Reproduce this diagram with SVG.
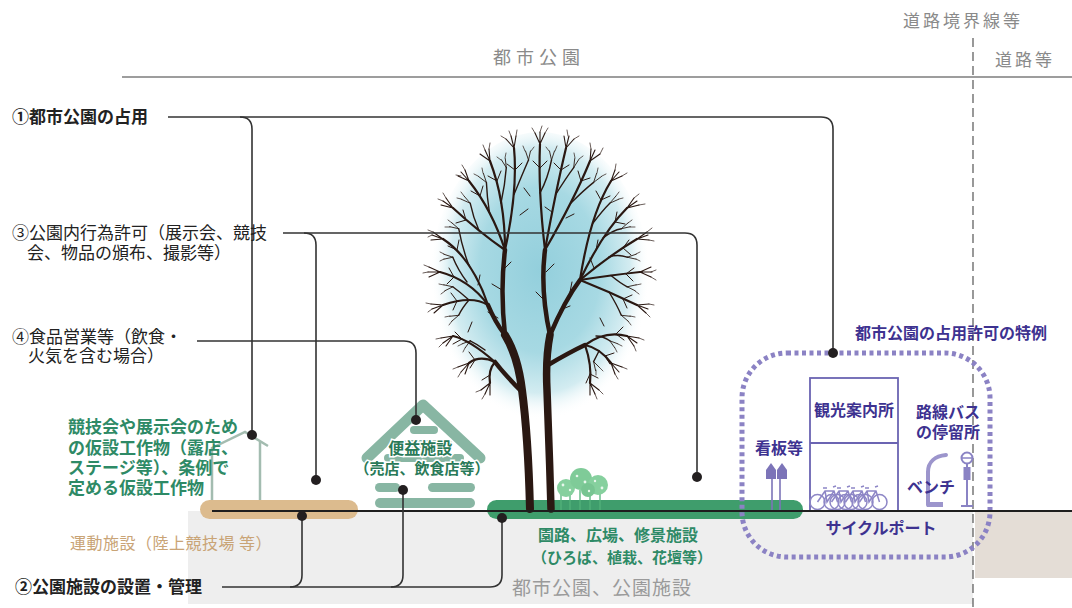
<svg xmlns="http://www.w3.org/2000/svg" width="1072" height="608" viewBox="0 0 1072 608">
  <defs>
    <style>
      text { font-family: "Noto Sans CJK JP", "Noto Sans", sans-serif; }
      .lbl { font-size: 17px; fill: #222; }
      .lbl-b { font-size: 17px; fill: #222; font-weight: bold; }
      .hdr { font-size: 17px; fill: #8a8a8a; letter-spacing: 3px; }
      .grn { font-size: 17px; fill: #2e8a66; font-weight: bold; }
      .tan { font-size: 16px; fill: #c9a476; letter-spacing: 0.5px; }
      .pur { font-size: 16px; fill: #3d3290; font-weight: bold; }
      .conn { fill: none; stroke: #333; stroke-width: 1.6; }
      .dot { fill: #231f20; }
      .br { fill: none; stroke: #2a1812; stroke-linecap: round; stroke-linejoin: round; }
      .log { fill: #88b6a3; }
      .bike { fill: none; stroke: #8d86c6; stroke-width: 1.5; }
    </style>
    <radialGradient id="glow" cx="50%" cy="46%" r="50%">
      <stop offset="0" stop-color="#93cfdc"/>
      <stop offset="0.55" stop-color="#a7d9e3"/>
      <stop offset="0.82" stop-color="#d3ecf1"/>
      <stop offset="1" stop-color="#ffffff" stop-opacity="0"/>
    </radialGradient>
  </defs>

  <!-- ground and boundary -->
  <g id="ground">
    <rect x="188" y="511" width="785" height="93" fill="#eeeeee"/>
    <rect x="975" y="512" width="97" height="66" fill="#e4ddd6"/>
  </g>

  <g id="header">
    <line x1="122" y1="77" x2="1072" y2="77" stroke="#7d7d7d" stroke-width="1.3"/>
    <line x1="973" y1="38" x2="973" y2="608" stroke="#555" stroke-width="1.2" stroke-dasharray="9 5"/>
    <text class="hdr" x="493" y="64" style="font-size:18px;letter-spacing:5px">都市公園</text>
    <text class="hdr" x="903" y="27">道路境界線等</text>
    <text class="hdr" x="995" y="66">道路等</text>
  </g>

  <!-- sports track -->
  <g id="track">
    <rect x="200" y="500" width="158" height="19" rx="9.5" fill="#dcbb8e"/>
    <text class="tan" x="70" y="549">運動施設（陸上競技場 等）</text>
  </g>

  <!-- temporary structure -->
  <g id="temp-structure">
    <polyline points="212,500 212,448 245,432 268,446" fill="none" stroke="#a3bcb0" stroke-width="2.5"/>
    <line x1="260" y1="442" x2="260" y2="500" stroke="#a3bcb0" stroke-width="2.5"/>
    <text class="grn">
      <tspan x="68" y="433">競技会や展示会のため</tspan>
      <tspan x="68" y="454">の仮設工作物（露店、</tspan>
      <tspan x="68" y="474">ステージ等）、条例で</tspan>
      <tspan x="68" y="494">定める仮設工作物</tspan>
    </text>
  </g>

  <!-- log cabin (convenience facility) -->
  <g id="cabin">
    <polyline points="367,458 423,405 480,458" fill="none" stroke="#88b6a3" stroke-width="11" stroke-linecap="round" stroke-linejoin="round"/>
    <rect class="log" x="410" y="426" width="28" height="8" rx="4"/>
    <rect class="log" x="396" y="440" width="56" height="8" rx="4"/>
    <rect class="log" x="384" y="454" width="80" height="8" rx="4"/>
    <rect class="log" x="375" y="483" width="25" height="9" rx="4.5"/>
    <rect class="log" x="428" y="483" width="47" height="9" rx="4.5"/>
    <rect class="log" x="375" y="498" width="100" height="10" rx="5"/>
    <text style="font-weight:bold;fill:#2a7a58;stroke:#ffffff;stroke-width:3;paint-order:stroke" text-anchor="middle">
      <tspan x="422" y="454" style="font-size:16px">便益施設</tspan>
      <tspan x="422" y="474" style="font-size:15px">（売店、飲食店等）</tspan>
    </text>
  </g>

  <!-- path and plaza strip -->
  <g id="green-path">
    <rect x="487" y="500" width="316" height="19" rx="9.5" fill="#3f9d6c"/>
    <g id="shrubs">
      <g stroke="#52b27a" stroke-width="1.3">
        <line x1="561" y1="492" x2="561" y2="510"/>
        <line x1="570" y1="492" x2="570" y2="510"/>
        <line x1="580" y1="490" x2="580" y2="510"/>
        <line x1="590" y1="492" x2="590" y2="510"/>
        <line x1="600" y1="492" x2="600" y2="510"/>
      </g>
      <circle cx="566" cy="488" r="9" fill="#86d09e"/>
      <circle cx="581" cy="479" r="11" fill="#7fcb98"/>
      <circle cx="598" cy="485" r="10" fill="#86d09e"/>
      <circle cx="588" cy="490" r="7" fill="#78c592"/>
      <g fill="#e8f7ec">
        <circle cx="563" cy="485" r="1.4"/><circle cx="570" cy="490" r="1.2"/>
        <circle cx="577" cy="476" r="1.3"/><circle cx="585" cy="482" r="1.4"/>
        <circle cx="595" cy="481" r="1.2"/><circle cx="602" cy="488" r="1.4"/>
        <circle cx="589" cy="491" r="1.2"/>
      </g>
    </g>
    <text class="grn" style="font-size:16px">
      <tspan x="538" y="541">園路、広場、修景施設</tspan>
      <tspan x="532" y="563" style="font-size:15px">（ひろば、植栽、花壇等）</tspan>
    </text>
  </g>

  <!-- tree -->
  <g id="tree">
    <ellipse cx="540" cy="282" rx="110" ry="150" fill="url(#glow)"/>
    <!-- trunks -->
    <path class="br" stroke-width="8" d="M530 509 C529 470 526 420 522 390 C519 365 513 348 505 335"/>
    <path class="br" stroke-width="7.5" d="M551 509 C550 470 548 420 547 390 C546 370 547 350 550 335"/>
    <!-- limbs -->
    <g class="br" stroke-width="4.5">
      <path d="M505 335 Q495 322 488 305"/>
      <path d="M505 335 Q500 290 505 250"/>
      <path d="M550 335 Q540 290 545 250"/>
      <path d="M550 335 Q565 300 580 280"/>
      <path d="M522 392 Q505 375 495 362"/>
      <path d="M548 365 Q570 352 585 345"/>
    </g>
    <!-- branches -->
    <g class="br" stroke-width="2.2">
      <path d="M488 305 Q472 295 443 305"/>
      <path d="M488 305 Q470 280 440 272"/>
      <path d="M488 305 Q472 258 443 239"/>
      <path d="M505 250 Q479 232 453 208"/>
      <path d="M505 250 Q492 210 469 181"/>
      <path d="M505 250 Q505 200 490 161"/>
      <path d="M505 250 Q518 190 514 148"/>
      <path d="M545 250 Q538 190 540 144"/>
      <path d="M545 250 Q556 190 566 148"/>
      <path d="M545 250 Q574 200 590 161"/>
      <path d="M580 280 Q590 215 611 181"/>
      <path d="M580 280 Q603 232 627 208"/>
      <path d="M580 280 Q610 255 637 239"/>
      <path d="M580 280 Q612 275 640 272"/>
      <path d="M580 280 Q610 292 637 305"/>
      <path d="M495 362 Q488 370 490 383"/>
      <path d="M495 362 Q480 355 469 363"/>
      <path d="M495 362 Q470 340 453 336"/>
      <path d="M585 345 Q605 330 627 336"/>
      <path d="M585 345 Q600 348 611 363"/>
      <path d="M585 345 Q592 365 590 383"/>
    </g>
    <!-- secondary branches filling the crown -->
    <g class="br" stroke-width="1.4">
      <path d="M540 193 Q548 178 551.5 160 M556 194 Q566 178 573.7 167.6 M571 203 Q584 190 593.6 182.4 M593 223 Q603 210 609.8 203.2 M603 238 Q613 230 621.3 228.7 M609 257 Q618 254 627.2 257.2 M611 275.5 Q620 283 627.2 286.8 M609 292 Q617 305 621.3 315.3 M596 336 Q603 336 609.8 340.8 M599 351 Q596 357 593.6 361.6"/>
      <path d="M514 194.5 Q522 175 528.5 160 M501 203 Q505 185 506.3 167.6 M489.5 213 Q487 197 486.4 182.4 M479 230.5 Q473 217 470.2 203.2 M468.75 265 Q462 247 458.7 228.7 M467 282 Q458 270 452.8 257.2 M469 300 Q460 292 452.8 286.8 M469 300 Q462 308 458.7 315.3 M485 350 Q477 344 470.2 340.8"/>
    </g>
    <!-- outer twigs -->
    <g class="br" stroke-width="1.1">
      <path d="M540 144 l-5 -11 M540 144 l0 -12 M540 144 l5 -11 M566 148 l-2 -12 M566 148 l3 -12 M566 148 l8 -9 M590 161 l1 -12 M590 161 l5 -11 M590 161 l10 -7 M611 181 l4 -11 M611 181 l8 -9 M611 181 l11 -5 M627 208 l7 -10 M627 208 l10 -7 M627 208 l12 -3 M637 239 l10 -7 M637 239 l11 -4 M637 239 l12 1"/>
      <path d="M640 272 l11 -5 M640 272 l12 0 M640 272 l11 5 M637 305 l12 -1 M637 305 l11 4 M637 305 l9 8 M627 336 l12 2 M627 336 l10 7 M627 336 l7 10 M611 363 l11 4 M611 363 l8 9 M611 363 l4 11 M590 383 l9 7 M590 383 l5 11 M590 383 l0 12"/>
      <path d="M490 383 l-9 7 M490 383 l-5 11 M490 383 l0 12 M469 363 l-11 4 M469 363 l-8 9 M469 363 l-4 11 M453 336 l-12 2 M453 336 l-10 7 M453 336 l-7 10 M443 305 l-12 -1 M443 305 l-11 4 M443 305 l-9 8 M440 272 l-11 -5 M440 272 l-12 0 M440 272 l-11 5"/>
      <path d="M443 239 l-10 -7 M443 239 l-11 -4 M443 239 l-12 1 M453 208 l-7 -10 M453 208 l-10 -7 M453 208 l-12 -3 M469 181 l-4 -11 M469 181 l-8 -9 M469 181 l-11 -5 M490 161 l-1 -12 M490 161 l-5 -11 M490 161 l-10 -7 M514 148 l2 -12 M514 148 l-3 -12 M514 148 l-8 -9"/>
    </g>
    <!-- twigs at the ends of the secondary branches -->
    <g class="br" stroke-width="0.9">
      <path d="M551.5 160 l-2 -9 M551.5 160 l3 -9 M573.7 167.6 l1 -9 M573.7 167.6 l5 -8 M593.6 182.4 l3 -9 M593.6 182.4 l8 -6 M609.8 203.2 l6 -7 M609.8 203.2 l9 -4 M621.3 228.7 l7 -6 M621.3 228.7 l9 -2 M627.2 257.2 l9 -3 M627.2 257.2 l9 2 M627.2 286.8 l9 -2 M627.2 286.8 l8 4 M621.3 315.3 l9 1 M621.3 315.3 l7 6 M609.8 340.8 l8 3 M609.8 340.8 l5 7 M593.6 361.6 l6 6 M593.6 361.6 l2 9"/>
      <path d="M528.5 160 l2 -9 M528.5 160 l-3 -9 M506.3 167.6 l-1 -9 M506.3 167.6 l-5 -8 M486.4 182.4 l-3 -9 M486.4 182.4 l-8 -6 M470.2 203.2 l-6 -7 M470.2 203.2 l-9 -4 M458.7 228.7 l-7 -6 M458.7 228.7 l-9 -2 M452.8 257.2 l-9 -3 M452.8 257.2 l-9 2 M452.8 286.8 l-9 -2 M452.8 286.8 l-8 4 M458.7 315.3 l-9 1 M458.7 315.3 l-7 6 M470.2 340.8 l-8 3 M470.2 340.8 l-5 7"/>
    </g>
    <!-- side twigs along branches -->
    <g class="br" stroke-width="1">
      <path d="M457 301 l-6 -8 M457 301 l-4 9 M454 277 l-5 -9 M454 277 l-7 7 M457 250 l-9 -4 M457 250 l2 -10 M466 220 l-3 -10 M466 220 l-10 3 M480 196 l-9 -5 M480 196 l3 -10 M497 181 l-9 -5 M497 181 l4 -10 M515 170 l-8 -6 M515 170 l7 -7"/>
      <path d="M540 168 l-7 -7 M540 168 l7 -7 M561 170 l-7 -7 M561 170 l8 -5 M581 181 l-3 -10 M581 181 l9 -3 M601 200 l-5 -9 M601 200 l9 -4 M615 222 l2 -10 M615 222 l10 2 M623 248 l6 -8 M623 248 l8 7 M626 274 l8 -6 M626 274 l7 7 M623 299 l9 -4 M623 299 l4 9"/>
      <path d="M490 375 l-8 5 M475 360 l-6 -8 M475 360 l-5 8 M462 339 l-7 -7 M462 339 l-9 5 M616 334 l7 -7 M616 334 l8 6 M605 356 l9 -3 M605 356 l5 8 M590 374 l8 4 M590 374 l-4 9"/>
      <path d="M498 318 l-10 -6 M502 290 l-10 -6 M503 270 l8 -8 M544 300 l-8 -8 M546 272 l8 -8 M560 310 l10 -4 M570 292 l2 -10 M520 215 l8 -6 M530 196 l-6 -8 M552 212 l-7 -5 M566 218 l8 -4 M596 250 l2 -10 M594 268 l-4 -10 M478 285 l2 -10 M472 322 l-4 10 M600 318 l4 8"/>
    </g>
    <g class="br" stroke-width="0.7">
      <path d="M535 133 l-3 -5 M540 132 l2 -6 M545 133 l3 -5 M568 136 l-1 -6 M574 139 l5 -3 M591 149 l-1 -6 M600 154 l3 -6 M615 170 l1 -6 M622 176 l5 -3 M634 198 l5 -4 M639 205 l6 -1 M647 232 l5 -4 M649 240 l5 1 M651 272 l5 -2 M651 277 l5 3 M649 304 l5 1 M646 313 l4 4 M639 338 l5 2 M634 346 l2 5 M622 367 l5 2 M615 374 l3 5 M599 390 l4 4 M595 394 l2 5"/>
      <path d="M485 394 l-3 5 M481 390 l-5 2 M458 367 l-5 2 M461 372 l-3 5 M441 338 l-5 1 M443 343 l-4 4 M431 304 l-5 -1 M432 309 l-4 3 M429 267 l-5 -2 M428 272 l-5 1 M433 232 l-5 -2 M432 235 l-4 2 M446 198 l-3 -5 M443 201 l-5 -2 M465 170 l-3 -5 M461 176 l-5 -1 M485 150 l-2 -5 M489 149 l1 -6 M511 136 l-2 -5 M516 136 l1 -6 M506 139 l-5 -3"/>
      <path d="M549 151 l-3 -4 M555 151 l2 -5 M575 158 l-1 -5 M579 159 l4 -3 M597 173 l1 -5 M602 176 l4 -2 M616 196 l3 -4 M619 199 l4 -1 M628 223 l4 -3 M630 227 l5 0 M636 254 l4 -2 M636 259 l4 2 M636 285 l5 -1 M635 291 l4 3 M630 316 l5 1 M628 321 l3 4 M618 344 l4 2 M615 348 l2 4 M600 368 l3 3 M596 370 l0 5"/>
      <path d="M531 151 l3 -4 M525 151 l-2 -5 M505 158 l1 -5 M501 160 l-4 -3 M483 173 l-1 -5 M478 176 l-4 -2 M464 196 l-3 -4 M461 199 l-4 -1 M452 223 l-4 -3 M450 227 l-5 0 M444 254 l-4 -2 M444 259 l-4 2 M444 285 l-5 -1 M445 291 l-4 3 M450 316 l-5 1 M452 321 l-3 4 M462 344 l-4 2 M465 348 l-2 4"/>
    </g>
  </g>

  <!-- special occupancy area -->
  <g id="special-area">
    <rect x="742" y="353" width="248" height="204" rx="45" fill="none" stroke="#8b82c4" stroke-width="5" stroke-dasharray="4 3.5"/>
    <text class="pur" x="855" y="339">都市公園の占用許可の特例</text>
  </g>

  <g id="signboard">
    <polygon points="766,470 771,463 776,470 776,479 766,479" fill="#7c74b8"/>
    <polygon points="777,470 782,463 787,470 787,479 777,479" fill="#7c74b8"/>
    <line x1="772" y1="479" x2="772" y2="510" stroke="#7c74b8" stroke-width="1.6"/>
    <line x1="780" y1="479" x2="780" y2="510" stroke="#7c74b8" stroke-width="1.6"/>
    <text class="pur" x="755" y="454">看板等</text>
  </g>

  <g id="tourist-info">
    <rect x="810" y="378" width="88" height="133" fill="none" stroke="#6b64b2" stroke-width="1.8"/>
    <line x1="810" y1="443" x2="898" y2="443" stroke="#6b64b2" stroke-width="1.8"/>
    <text class="pur" x="854" y="416" text-anchor="middle">観光案内所</text>
  </g>

  <g id="cycle-port">
    <g class="bike">
      <circle cx="817.5" cy="502" r="7.5"/><circle cx="837.5" cy="502" r="7.5"/>
      <path d="M817.5 502 L825 491 L834 491 L837.5 502 M825 491 L827 502 L834 491 M823 488 h4 M833 487 l3 -1"/>
    </g>
    <g class="bike">
      <circle cx="831.5" cy="502" r="7.5"/><circle cx="851.5" cy="502" r="7.5"/>
      <path d="M831.5 502 L839 491 L848 491 L851.5 502 M839 491 L841 502 L848 491 M837 488 h4 M847 487 l3 -1"/>
    </g>
    <g class="bike">
      <circle cx="845.5" cy="502" r="7.5"/><circle cx="865.5" cy="502" r="7.5"/>
      <path d="M845.5 502 L853 491 L862 491 L865.5 502 M853 491 L855 502 L862 491 M851 488 h4 M861 487 l3 -1"/>
    </g>
    <g class="bike">
      <circle cx="859.5" cy="502" r="7.5"/><circle cx="879.5" cy="502" r="7.5"/>
      <path d="M859.5 502 L867 491 L876 491 L879.5 502 M867 491 L869 502 L876 491 M865 488 h4 M875 487 l3 -1"/>
    </g>
    <text class="pur" x="881" y="534" text-anchor="middle">サイクルポート</text>
  </g>

  <g id="bench">
    <path d="M928 505 V472 C928 462 935 456 946 455" fill="none" stroke="#9c95cc" stroke-width="4" stroke-linecap="round"/>
    <rect x="927" y="502" width="16" height="5" fill="#9c95cc"/>
    <text class="pur" x="907" y="493">ベンチ</text>
  </g>

  <g id="bus-stop">
    <line x1="967" y1="463" x2="967" y2="505" stroke="#8a83c4" stroke-width="2"/>
    <circle cx="967" cy="458" r="5.5" fill="#fff" stroke="#8a83c4" stroke-width="2"/>
    <line x1="962" y1="458" x2="972" y2="458" stroke="#8a83c4" stroke-width="1.5"/>
    <rect x="963.5" y="467" width="7" height="13" fill="#8a83c4"/>
    <line x1="961" y1="506" x2="973" y2="506" stroke="#8a83c4" stroke-width="2"/>
    <text class="pur">
      <tspan x="916" y="418">路線バス</tspan>
      <tspan x="916" y="438">の停留所</tspan>
    </text>
  </g>

  <!-- ground line -->
  <line id="ground-line" x1="212" y1="511" x2="1072" y2="511" stroke="#1e1e1e" stroke-width="2"/>

  <text id="park-facilities" x="512" y="595" style="font-size:19px;fill:#9a9a9a;letter-spacing:1px">都市公園、公園施設</text>

  <!-- leader lines -->
  <g id="connectors" class="conn">
    <path d="M168 117 H821 Q833 117 833 129 V352"/>
    <path d="M240 117 Q252 117 252 129 V435"/>
    <path d="M283 233 H685 Q697 233 697 245 V477"/>
    <path d="M304 233 Q316 233 316 245 V480"/>
    <path d="M197 341 H404 Q416 341 416 353 V420"/>
    <path d="M222 587 H490 Q502 587 502 575 V518"/>
    <path d="M290 587 Q302 587 302 575 V516"/>
    <path d="M391 587 Q403 587 403 575 V490"/>
  </g>
  <g id="connector-dots" class="dot">
    <circle cx="833" cy="353" r="5"/>
    <circle cx="252" cy="435" r="5"/>
    <circle cx="697" cy="477" r="5"/>
    <circle cx="316" cy="480" r="5"/>
    <circle cx="416" cy="420" r="5"/>
    <circle cx="502" cy="518" r="5"/>
    <circle cx="302" cy="516" r="5"/>
    <circle cx="403" cy="490" r="5"/>
  </g>

  <!-- category labels -->
  <g id="label-occupancy"><text class="lbl-b" x="12" y="123">①都市公園の占用</text></g>
  <g id="label-facilities"><text class="lbl-b" x="15" y="593">②公園施設の設置・管理</text></g>
  <g id="label-activities">
    <text class="lbl">
      <tspan x="12" y="239">③公園内行為許可（展示会、競技</tspan>
      <tspan x="27" y="259">会、物品の頒布、撮影等）</tspan>
    </text>
  </g>
  <g id="label-food">
    <text class="lbl">
      <tspan x="12" y="343">④食品営業等（飲食・</tspan>
      <tspan x="28" y="362">火気を含む場合）</tspan>
    </text>
  </g>
</svg>
